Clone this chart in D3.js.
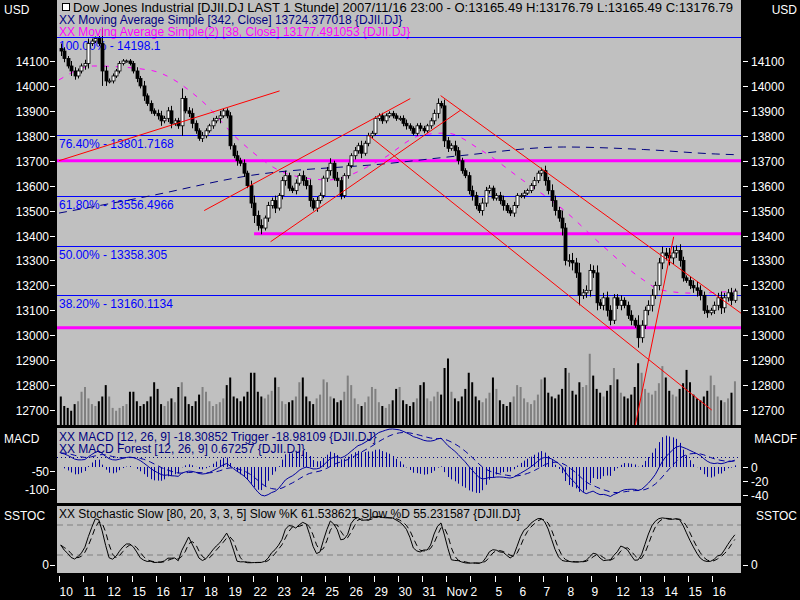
<!DOCTYPE html>
<html><head><meta charset="utf-8">
<script src="https://cdn.jsdelivr.net/npm/d3@7"></script>
<style>body{margin:0;background:#000}svg{display:block}text{font-family:"Liberation Sans",Arial,sans-serif;font-size:12px}</style>
</head><body><svg id="c" width="800" height="600"></svg>
<script>
const dayLabels=["10","11","12","15","16","17","18","19","22","23","24","25","26","29","30","31","Nov","2","5","6","7","8","9","12","13","14","15","16"];
const closes=[
14140,14110,14080,14060,14040,14060,14080,
14090,14170,14180,14190,14170,14060,14020,
14020,14040,14060,14090,14100,14100,14090,
14060,14030,14000,13960,13930,13900,13890,
13880,13860,13870,13900,13850,13860,13840,
13950,13900,13890,13850,13820,13790,13800,
13820,13840,13860,13870,13880,13900,13880,
13760,13720,13700,13690,13650,13600,13530,
13480,13440,13430,13470,13520,13540,13510,
13560,13620,13640,13590,13580,13610,13640,
13620,13600,13540,13510,13540,13560,13630,
13660,13690,13630,13620,13560,13640,13680,
13720,13740,13760,13730,13770,13800,13810,
13870,13880,13860,13880,13890,13880,13870,
13870,13850,13840,13830,13810,13840,13830,
13820,13840,13860,13890,13930,13920,13780,
13750,13760,13740,13700,13660,13640,13580,
13560,13520,13500,13530,13580,13590,13550,
13560,13540,13520,13500,13490,13520,13560,
13560,13570,13580,13600,13620,13650,13660,
13620,13580,13540,13500,13470,13430,13300,
13300,13290,13250,13160,13170,13180,13260,
13250,13130,13120,13150,13100,13060,13150,
13120,13140,13120,13080,13060,13040,12990,
13040,13100,13120,13160,13200,13290,13330,
13320,13310,13330,13340,13300,13230,13220,
13200,13190,13180,13160,13100,13090,13100,
13120,13150,13110,13150,13170,13140,13177];
const wicks=[
20,15,10,20,15,10,10, 15,20,10,8,10,60,20, 10,10,8,10,8,6,8, 10,15,10,20,10,12,10,
15,20,10,15,20,10,12, 40,10,15,20,12,10,15, 10,8,12,10,20,8,10, 15,10,20,12,15,10,20,
30,20,25,10,15,12,20, 10,15,20,12,10,15,10, 20,15,25,10,15,12,10, 15,20,10,25,15,10,12,
10,15,12,20,10,12,10, 8,10,12,10,8,10,10, 10,12,15,10,8,10,12, 10,8,12,15,20,10,25,
15,10,20,15,12,10,15, 20,15,10,20,15,12,10, 10,15,20,10,12,15,10, 10,12,8,10,15,10,12,
20,15,25,20,15,30,20, 25,30,20,40,15,20,25, 20,30,15,20,25,20,15, 15,20,12,15,20,10,40,
20,15,20,25,15,20,25, 20,30,25,20,25,15,10, 15,20,25,20,15,20,10, 15,20,25,20,15,20,10];
const volumes=[
30,20,18,15,22,25,35, 40,28,22,20,25,30,42, 30,18,15,18,20,22,35, 35,25,20,22,25,30,45,
38,22,20,25,28,24,40, 45,30,22,20,25,32,40, 35,25,20,22,24,28,42, 50,30,28,25,30,35,55,
55,35,30,28,32,36,50, 40,25,22,24,26,30,45, 50,30,25,22,28,32,48, 45,30,28,24,26,35,52,
42,28,22,20,24,30,40, 38,24,20,18,22,26,38, 40,26,22,20,24,28,42, 45,28,25,30,35,32,60,
70,35,28,25,30,38,55, 45,30,26,24,28,34,50, 38,26,22,20,24,30,42, 40,28,24,22,26,32,48,
50,34,30,28,32,38,60, 55,36,32,45,40,42,75, 52,38,34,30,36,42,60, 48,34,30,28,32,40,65,
55,38,34,32,36,44,62, 50,36,32,30,38,44,58, 45,32,28,26,30,36,52, 42,30,26,24,28,34,46];
const ma342=[[0,13490],[26,13558],[55,13640],[96,13690],[116,13720],[146,13755],[169,13745],[190,13727],[196,13724]];
const ma38=[[0,14024],[10,14080],[26,14064],[41,13944],[52,13783],[67,13643],[78,13623],[93,13703],[105,13803],[112,13811],[122,13743],[134,13623],[146,13502],[157,13362],[169,13222],[174,13182],[183,13169],[196,13177]];
const fibLevels=[[14198.1,"100.00% - 14198.1"],[13801.7168,"76.40% - 13801.7168"],[13556.4966,"61.80% - 13556.4966"],[13358.305,"50.00% - 13358.305"],[13160.1134,"38.20% - 13160.1134"]];
const supportLevels=[[13700,0],[13407,57],[13030,0]];
const priceTicks=[14100,14000,13900,13800,13700,13600,13500,13400,13300,13200,13100,13000,12900,12800,12700];
const trendLines=[[[0,13700],[63.8,13980]],[[42,13500],[101.6,13949]],[[61.2,13375],[116.2,13903]],[[110.4,13961],[197.4,13087]],[[89.6,13801],[188.8,12700]],[[164.2,12470],[177.8,13395]]];

const svg=d3.select("#c");
const L=57,R=741;
const x=d3.scaleLinear().domain([0,196]).range([59,736.6]);
const y=d3.scaleLinear().domain([12700,14100]).range([410,61]);
svg.append("rect").attr("x",L).attr("y",0).attr("width",R-L).attr("height",425).attr("fill","#c0c0c0");
svg.append("rect").attr("x",L).attr("y",428).attr("width",R-L).attr("height",75).attr("fill","#c0c0c0");
svg.append("rect").attr("x",L).attr("y",506).attr("width",R-L).attr("height",67).attr("fill","#c0c0c0");
const defs=svg.append("defs");
defs.append("clipPath").attr("id","cm").append("rect").attr("x",L).attr("y",0).attr("width",R-L).attr("height",425);
defs.append("clipPath").attr("id","cd").append("rect").attr("x",L).attr("y",428).attr("width",R-L).attr("height",75);
defs.append("clipPath").attr("id","cs").append("rect").attr("x",L).attr("y",506).attr("width",R-L).attr("height",67);
const gm=svg.append("g").attr("clip-path","url(#cm)");
const opens=closes.map((c,i)=>i?closes[i-1]:14150);
const yv=d3.scaleLinear().domain([0,100]).range([425,330]);
gm.selectAll(".v").data(volumes).join("rect").attr("x",(d,i)=>x(i)+0.8).attr("width",2).attr("y",d=>yv(d)).attr("height",d=>425-yv(d))
 .attr("fill",(d,i)=>closes[i]<opens[i]?"#000":"#808080");
fibLevels.forEach(f=>{gm.append("line").attr("x1",L).attr("x2",R).attr("y1",Math.round(y(f[0]))+0.5).attr("y2",Math.round(y(f[0]))+0.5).attr("stroke","#0000ff");
 gm.append("text").attr("x",59).attr("y",y(f[0])+13).attr("fill","#0000ff").text(f[1]);});
supportLevels.forEach(s=>gm.append("line").attr("x1",x(s[1])-2).attr("x2",R).attr("y1",y(s[0])).attr("y2",y(s[0])).attr("stroke","#ff00ff").attr("stroke-width",3));
const lineP=d3.line().x(d=>x(d[0])).y(d=>y(d[1])).curve(d3.curveMonotoneX);
gm.append("path").attr("d",lineP(ma342)).attr("fill","none").attr("stroke","#000080").attr("stroke-dasharray","8,6");
gm.append("path").attr("d",lineP(ma38)).attr("fill","none").attr("stroke","#ff00ff").attr("stroke-dasharray","5,7");
closes.forEach((c,i)=>{const o=opens[i],w=wicks[i];const hi=Math.max(o,c)+w,lo=Math.min(o,c)-w;const cx=Math.round(x(i)+1.7)+0.5;
 gm.append("line").attr("x1",cx).attr("x2",cx).attr("y1",y(hi)).attr("y2",y(lo)).attr("stroke","#000");
 gm.append("rect").attr("x",cx-1.5).attr("width",3).attr("y",y(Math.max(o,c))).attr("height",Math.max(1,Math.abs(y(o)-y(c))))
  .attr("fill",c>=o?"#fff":"#000").attr("stroke","#000").attr("stroke-width",0.8);});
trendLines.forEach(t=>gm.append("line").attr("x1",x(t[0][0])).attr("y1",y(t[0][1])).attr("x2",x(t[1][0])).attr("y2",y(t[1][1])).attr("stroke","#ff0000"));
svg.append("rect").attr("x",62.5).attr("y",3.5).attr("width",7).attr("height",7).attr("fill","#fff").attr("stroke","#000");
svg.append("text").attr("x",73).attr("y",12).attr("fill","#000").attr("textLength",660).attr("lengthAdjust","spacingAndGlyphs").text("Dow Jones Industrial [DJII.DJ LAST 1 Stunde] 2007/11/16 23:00 - O:13165.49 H:13176.79 L:13165.49 C:13176.79");
svg.append("text").attr("x",59).attr("y",24).attr("fill","#000080").text("XX Moving Average Simple [342, Close] 13724.377018 {DJII.DJ}");
svg.append("text").attr("x",59).attr("y",36).attr("fill","#ff00ff").text("XX Moving Average Simple(2) [38, Close] 13177.491053 {DJII.DJ}");
svg.append("line").attr("x1",L).attr("x2",R).attr("y1",Math.round(y(14198.1))+0.5).attr("y2",Math.round(y(14198.1))+0.5).attr("stroke","#0000ff");
const W="#fff";
svg.append("text").attr("x",4).attr("y",14).attr("fill",W).text("USD");
svg.append("text").attr("x",797).attr("y",14).attr("text-anchor","end").attr("fill",W).text("USD");
priceTicks.forEach(p=>{const yy=Math.round(y(p))+0.5;
 svg.append("line").attr("x1",50).attr("x2",55).attr("y1",yy).attr("y2",yy).attr("stroke",W);
 svg.append("line").attr("x1",743).attr("x2",748).attr("y1",yy).attr("y2",yy).attr("stroke",W);
 svg.append("text").attr("x",49).attr("y",yy+4).attr("text-anchor","end").attr("fill",W).text(p);
 svg.append("text").attr("x",751).attr("y",yy+4).attr("fill",W).text(p);});
function ema(a,n){const k=2/(n+1);let e=a[0];return a.map(v=>e=v*k+e*(1-k));}
const e12=ema(closes,12),e26=ema(closes,26);
const macd=e12.map((v,i)=>v-e26[i]);const trig=ema(macd,9);const forest=macd.map((v,i)=>v-trig[i]);
const ym=d3.scaleLinear().domain([-100,-50]).range([489,471]);
const yf=d3.scaleLinear().domain([-40,0]).range([495,467]);
const gd=svg.append("g").attr("clip-path","url(#cd)");
gd.append("line").attr("x1",L).attr("x2",R).attr("y1",457.5).attr("y2",457.5).attr("stroke","#000080").attr("stroke-dasharray","1,3");
gd.selectAll(".f").data(forest).join("line").attr("x1",(d,i)=>Math.round(x(i)+1.7)+0.5).attr("x2",(d,i)=>Math.round(x(i)+1.7)+0.5)
 .attr("y1",yf(0)).attr("y2",d=>yf(d)).attr("stroke","#0000a0");
const lm=d3.line().x((d,i)=>x(i)+1.7).y(d=>ym(d));
gd.append("path").attr("d",lm(macd)).attr("fill","none").attr("stroke","#0000a0");
gd.append("path").attr("d",lm(trig)).attr("fill","none").attr("stroke","#0000a0").attr("stroke-dasharray","6,4");
svg.append("text").attr("x",59).attr("y",441).attr("fill","#000080").text("XX MACD [12, 26, 9] -18.30852 Trigger -18.98109 {DJII.DJ}");
svg.append("text").attr("x",59).attr("y",453).attr("fill","#000080").text("XX MACD Forest [12, 26, 9] 0.67257 {DJII.DJ}");
svg.append("text").attr("x",4).attr("y",443).attr("fill",W).text("MACD");
svg.append("text").attr("x",797).attr("y",443).attr("text-anchor","end").attr("fill",W).text("MACDF");
[-50,-100].forEach(v=>{const yy=Math.round(ym(v))+0.5;svg.append("line").attr("x1",50).attr("x2",55).attr("y1",yy).attr("y2",yy).attr("stroke",W);
 svg.append("text").attr("x",49).attr("y",yy+4).attr("text-anchor","end").attr("fill",W).text(v);});
[0,-20,-40].forEach(v=>{const yy=Math.round(yf(v))+0.5;svg.append("line").attr("x1",743).attr("x2",748).attr("y1",yy).attr("y2",yy).attr("stroke",W);
 svg.append("text").attr("x",751).attr("y",yy+4).attr("fill",W).text(v);});
const hiA=closes.map((c,i)=>Math.max(opens[i],c)+wicks[i]),loA=closes.map((c,i)=>Math.min(opens[i],c)-wicks[i]);
const kp=12;const rawK=closes.map((c,i)=>{const s=Math.max(0,i-kp+1);const h=d3.max(hiA.slice(s,i+1)),l=d3.min(loA.slice(s,i+1));return h>l?100*(c-l)/(h-l):50;});
const sma=(a,n)=>a.map((v,i)=>d3.mean(a.slice(Math.max(0,i-n+1),i+1)));
const slowK=sma(rawK,3),slowD=sma(slowK,3);
const ys=d3.scaleLinear().domain([0,100]).range([565,515]);
const gs=svg.append("g").attr("clip-path","url(#cs)");
[20,80].forEach(v=>gs.append("line").attr("x1",L).attr("x2",R).attr("y1",ys(v)).attr("y2",ys(v)).attr("stroke","#808080").attr("stroke-dasharray","6,4"));
const ls=d3.line().x((d,i)=>x(i)+1.7).y(d=>ys(d));
gs.append("path").attr("d",ls(slowK)).attr("fill","none").attr("stroke","#000");
gs.append("path").attr("d",ls(slowD)).attr("fill","none").attr("stroke","#000").attr("stroke-dasharray","6,4");
svg.append("text").attr("x",59).attr("y",518).attr("fill","#000").text("XX Stochastic Slow [80, 20, 3, 3, 5] Slow %K 61.538621 Slow %D 55.231587 {DJII.DJ}");
svg.append("text").attr("x",4).attr("y",520).attr("fill",W).text("SSTOC");
svg.append("text").attr("x",797).attr("y",520).attr("text-anchor","end").attr("fill",W).text("SSTOC");
svg.append("line").attr("x1",50).attr("x2",55).attr("y1",565.5).attr("y2",565.5).attr("stroke",W);
svg.append("text").attr("x",49).attr("y",569).attr("text-anchor","end").attr("fill",W).text("0");
svg.append("line").attr("x1",743).attr("x2",748).attr("y1",565.5).attr("y2",565.5).attr("stroke",W);
svg.append("text").attr("x",751).attr("y",569).attr("fill",W).text("0");
dayLabels.forEach((d,i)=>{const xx=Math.round(x(i*7))+0.5;
 svg.append("line").attr("x1",xx).attr("x2",xx).attr("y1",576).attr("y2",582).attr("stroke",W);
 svg.append("text").attr("x",xx+0).attr("y",596).attr("fill",W).text(d);});
</script></body></html>
